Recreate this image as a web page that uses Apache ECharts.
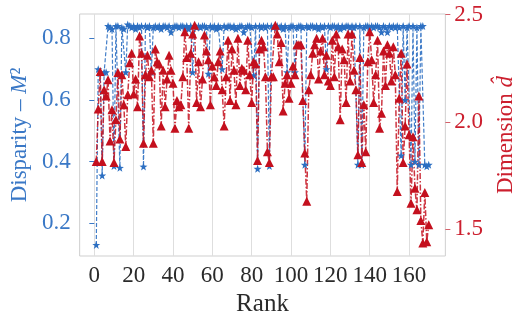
<!DOCTYPE html>
<html>
<head>
<meta charset="utf-8">
<script src="https://cdn.jsdelivr.net/npm/echarts@6/dist/echarts.min.js"></script>
<style>
  html, body { margin: 0; padding: 0; background: #fff; }
  #chart { width: 525px; height: 327px; }
</style>
</head>
<body>
<div id="chart"></div>
<script>
// 视差 M^2（左轴，蓝色）
const disparity = [
  0.13, 0.70, 0.69, 0.355, 0.69, 0.69, 0.84, 0.835, 0.83, 0.386,
  0.84, 0.84, 0.38, 0.835, 0.83, 0.69, 0.845, 0.84, 0.835, 0.84,
  0.83, 0.84, 0.835, 0.84, 0.384, 0.84, 0.835, 0.84, 0.69, 0.835,
  0.84, 0.835, 0.84, 0.83, 0.84, 0.84, 0.835, 0.84, 0.82, 0.835,
  0.84, 0.84, 0.835, 0.84, 0.84, 0.835, 0.84, 0.83, 0.84, 0.69,
  0.84, 0.835, 0.84, 0.835, 0.84, 0.84, 0.835, 0.685, 0.84, 0.835,
  0.84, 0.83, 0.84, 0.835, 0.70, 0.84, 0.835, 0.84, 0.84, 0.835,
  0.84, 0.83, 0.835, 0.84, 0.84, 0.82, 0.835, 0.84, 0.84, 0.835,
  0.68, 0.84, 0.377, 0.84, 0.835, 0.84, 0.835, 0.84, 0.386, 0.84,
  0.835, 0.84, 0.84, 0.835, 0.84, 0.83, 0.84, 0.69, 0.835, 0.84,
  0.84, 0.69, 0.835, 0.84, 0.84, 0.835, 0.39, 0.84, 0.835, 0.84,
  0.84, 0.835, 0.84, 0.83, 0.84, 0.835, 0.84, 0.70, 0.84, 0.835,
  0.84, 0.84, 0.835, 0.84, 0.83, 0.84, 0.835, 0.84, 0.84, 0.835,
  0.84, 0.835, 0.84, 0.39, 0.84, 0.39, 0.835, 0.84, 0.84, 0.835,
  0.84, 0.835, 0.84, 0.84, 0.835, 0.82, 0.84, 0.835, 0.82, 0.84,
  0.835, 0.84, 0.835, 0.84, 0.835, 0.42, 0.84, 0.60, 0.835, 0.84,
  0.39, 0.84, 0.40, 0.835, 0.39, 0.84, 0.84, 0.39, 0.385, 0.39
];

// 维度 d（右轴，红色）
const dimension = [
  1.815, 2.06, 2.235, 1.815, 2.15, 2.12, 2.196, 1.91, 2.056, 1.81,
  2.01, 2.23, 1.92, 2.22, 2.08, 1.885, 2.126, 2.276, 2.32, 2.13,
  2.20, 2.07, 2.40, 2.32, 1.90, 2.22, 2.31, 2.21, 2.24, 1.90,
  2.34, 2.28, 2.27, 1.98, 2.24, 2.07, 2.20, 2.31, 2.24, 2.18,
  1.97, 2.10, 2.07, 2.08, 2.21, 2.42, 2.30, 1.97, 2.32, 2.41,
  2.45, 2.09, 2.28, 2.07, 2.20, 2.405, 2.33, 2.29, 2.08, 2.26,
  2.21, 2.17, 2.28, 2.33, 2.15, 1.98, 2.21, 2.38, 2.10, 2.34,
  2.24, 2.08, 2.39, 2.17, 2.25, 2.24, 2.15, 2.38, 2.22, 2.09,
  2.28, 2.27, 1.82, 2.34, 2.38, 2.35, 2.21, 1.86, 1.81, 2.21,
  2.21, 2.45, 2.41, 2.28, 2.37, 2.05, 2.18, 2.22, 2.11, 2.18,
  2.26, 2.22, 2.36, 2.36, 2.36, 2.10, 1.855, 1.63, 2.15, 2.22,
  2.32, 2.36, 2.39, 2.20, 2.33, 2.39, 2.22, 2.31, 2.19, 2.17,
  2.38, 2.21, 2.41, 2.35, 2.01, 2.34, 2.29, 2.09, 2.41, 2.19,
  2.41, 2.24, 2.15, 1.846, 2.30, 1.81, 2.08, 1.86, 2.28, 2.42,
  2.29, 2.09, 2.22, 2.38, 1.97, 2.04, 2.33, 2.17, 2.36, 2.32,
  2.19, 2.35, 2.22, 1.675, 2.11, 2.32, 1.81, 1.98, 2.27, 1.94,
  1.62, 1.93, 1.69, 1.59, 2.12, 1.54, 1.435, 1.67, 1.44, 1.52
];

const rankTicks = [0, 20, 40, 60, 80, 100, 120, 140, 160];
const disparityTicks = [0.2, 0.4, 0.6, 0.8];
const dimensionTicks = [1.5, 2.0, 2.5];

const BLUE = "#2c6fc2";
const RED = "#c4101e";
const FONT = "Liberation Serif";

const ranks = disparity.map((v, i) => i + 1);
const starPath =
  "path://M0,-10L2.35,-3.24L9.51,-3.09L3.8,1.24L5.88,8.09L0,4L-5.88,8.09L-3.8,1.24L-9.51,-3.09L-2.35,-3.24Z";

let myChart = echarts.init(document.getElementById("chart"));
myChart.setOption({
  animation: false,
  grid: {
    left: 78,
    right: 77,
    top: 14,
    bottom: 71,
    show: true,
    borderColor: "#cfcfcf",
    borderWidth: 1,
  },
  xAxis: {
    type: "value",
    min: -7.45,
    max: 178.45,
    name: "Rank",
    nameLocation: "middle",
    nameGap: 34,
    nameTextStyle: { fontFamily: FONT, fontSize: 25, color: "#2a2a2a" },
    axisLine: { show: false },
    axisTick: { show: false, customValues: rankTicks },
    axisLabel: {
      customValues: rankTicks,
      fontFamily: FONT,
      fontSize: 23,
      color: "#2a2a2a",
      margin: 8,
    },
    splitLine: { show: true, lineStyle: { color: "#dedede", width: 1 } },
  },
  yAxis: [
    {
      type: "value",
      position: "left",
      min: 0.094,
      max: 0.879,
      name: "{n|Disparity – }{m|M}{n|²}",
      nameLocation: "middle",
      nameGap: 45,
      nameTextStyle: {
        color: BLUE,
        rich: {
          n: { fontFamily: FONT, fontSize: 23, color: "#3a78c6" },
          m: { fontFamily: FONT, fontSize: 23, fontStyle: "italic", color: "#3a78c6" },
        },
      },
      axisLine: { show: false },
      axisTick: {
        show: true,
        customValues: disparityTicks,
        length: 5,
        lineStyle: { color: "#3a78c6" },
      },
      axisLabel: {
        customValues: disparityTicks,
        fontFamily: FONT,
        fontSize: 23,
        color: "#3a78c6",
        margin: 9,
        formatter: (v) => v.toFixed(1),
      },
      splitLine: { show: false },
    },
    {
      type: "value",
      position: "right",
      min: 1.374,
      max: 2.503,
      name: "{n|Dimension }{m|d\u0302}",
      nameLocation: "middle",
      nameGap: 44,
      nameRotate: 90,
      nameTextStyle: {
        rich: {
          n: { fontFamily: FONT, fontSize: 23, color: "#cc1f2e" },
          m: { fontFamily: FONT, fontSize: 23, fontStyle: "italic", color: "#cc1f2e" },
        },
      },
      axisLine: { show: false },
      axisTick: {
        show: true,
        customValues: dimensionTicks,
        length: 5,
        lineStyle: { color: "#d4606a" },
      },
      axisLabel: {
        customValues: dimensionTicks,
        fontFamily: FONT,
        fontSize: 23,
        color: "#cc1f2e",
        margin: 9,
        formatter: (v) => v.toFixed(1),
      },
      splitLine: { show: false },
    },
  ],
  series: [
    {
      name: "Disparity",
      type: "line",
      yAxisIndex: 0,
      data: ranks.map((r, i) => [r, disparity[i]]),
      symbol: starPath,
      symbolSize: 8,
      showAllSymbol: true,
      itemStyle: { color: BLUE },
      lineStyle: { color: BLUE, width: 1.2, type: [4, 2], opacity: 0.9 },
    },
    {
      name: "Dimension",
      type: "line",
      yAxisIndex: 1,
      data: ranks.map((r, i) => [r, dimension[i]]),
      symbol: "triangle",
      symbolSize: 9,
      showAllSymbol: true,
      itemStyle: { color: RED },
      lineStyle: { color: RED, width: 1.5, type: [6, 2, 1.5, 2], opacity: 0.85 },
    },
  ],
});
</script>
</body>
</html>
